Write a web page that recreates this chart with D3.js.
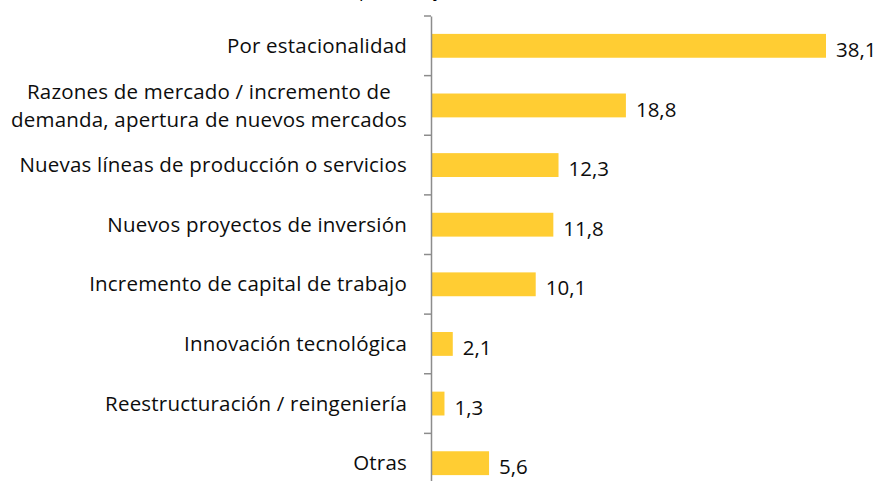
<!DOCTYPE html>
<html><head><meta charset="utf-8">
<script src="https://cdn.jsdelivr.net/npm/d3@7"></script>
<style>body{margin:0;background:#fff}svg{display:block}text{font-family:"Open Sans",Lato,sans-serif}</style>
</head><body>
<svg id="c" width="879" height="481"></svg>
<script>
const categories = [
  ["Por estacionalidad"],
  ["Razones de mercado / incremento de", "demanda, apertura de nuevos mercados"],
  ["Nuevas líneas de producción o servicios"],
  ["Nuevos proyectos de inversión"],
  ["Incremento de capital de trabajo"],
  ["Innovación tecnológica"],
  ["Reestructuración / reingeniería"],
  ["Otras"]
];
const values = [38.1, 18.8, 12.3, 11.8, 10.1, 2.1, 1.3, 5.6];
const valueLabels = ["38,1", "18,8", "12,3", "11,8", "10,1", "2,1", "1,3", "5,6"];
const title = "(en porcentaje)";

(function () {
const svg = d3.select("#c");
const x0 = 431, yTop = 16, yBottom = 493;
const x = d3.scaleLinear().domain([0, 38.1]).range([x0, 826]);
const y = d3.scaleBand().domain(d3.range(values.length)).range([yTop, yBottom]).paddingInner(0.6).paddingOuter(0.3);
const band = d3.scaleBand().domain(d3.range(values.length)).range([yTop, yBottom]);

svg.append("text").attr("x", 391).attr("y", -3).attr("text-anchor", "middle")
  .attr("font-size", 18).attr("fill", "#000").text(title);

svg.selectAll("rect.bar").data(values).join("rect").attr("class", "bar")
  .attr("x", x0).attr("y", (d, i) => y(i)).attr("width", d => x(d) - x0).attr("height", y.bandwidth())
  .attr("fill", "#FFCD33");

const yAxis = d3.axisLeft(band).tickSize(0).tickFormat("");
const g = svg.append("g").attr("transform", `translate(${x0},0)`).call(yAxis);
g.select(".domain").attr("stroke", "#8c8c8c").attr("stroke-width", 1.5);
const bounds = d3.range(values.length + 1).map(i => yTop + i * band.step());
svg.selectAll("line.tk").data(bounds).join("line").attr("class", "tk")
  .attr("x1", x0 - 7).attr("x2", x0).attr("y1", d => d).attr("y2", d => d)
  .attr("stroke", "#8c8c8c").attr("stroke-width", 1.5);

// size the font so the reference label width (389px) is matched
const probe = svg.append("text").attr("font-size", 18).attr("letter-spacing", 0.2).text(categories[2][0]);
const pw = probe.node().getComputedTextLength();
probe.remove();
const fs = 18 * 389 / pw;

categories.forEach((lines, i) => {
  const cy = band(i) + band.bandwidth() / 2;
  const t = svg.append("text").attr("font-size", fs).attr("fill", "#0d0d0d").attr("letter-spacing", 0.2);
  const spans = lines.map(l => t.append("tspan").text(l));
  const widths = spans.map(s => s.node().getComputedTextLength());
  const maxW = d3.max(widths);
  const lh = 28;
  spans.forEach((s, k) => {
    s.attr("x", 407 - maxW / 2).attr("text-anchor", "middle")
     .attr("y", cy + (k - (lines.length - 1) / 2) * lh).attr("dy", "0.35em");
  });
});

svg.selectAll("text.val").data(values).join("text").attr("class", "val")
  .attr("x", d => x(d) + 10).attr("y", (d, i) => y(i) + y.bandwidth() / 2 + 4).attr("dy", "0.35em")
  .attr("font-size", fs).attr("fill", "#0d0d0d").text((d, i) => valueLabels[i]);
})();
</script>
</body></html>
